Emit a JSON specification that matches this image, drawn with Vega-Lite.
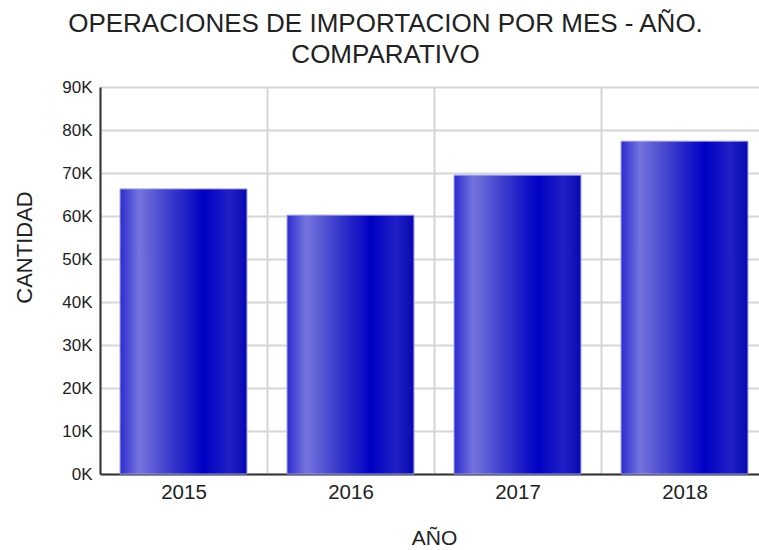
{
  "$schema": "https://vega.github.io/schema/vega-lite/v6.json",
  "autosize": "none",
  "width": 659,
  "height": 387,
  "padding": {"left": 100, "top": 87, "right": 0, "bottom": 76},
  "background": "white",
  "title": {
    "text": ["OPERACIONES DE IMPORTACION POR MES - AÑO.", "COMPARATIVO"],
    "font": "Liberation Sans",
    "fontSize": 26,
    "fontWeight": "normal",
    "color": "#222222",
    "lineHeight": 31,
    "anchor": "middle",
    "dx": -44,
    "offset": 10
  },
  "data": {
    "values": [
      {"year": "2015", "count": 66300},
      {"year": "2016", "count": 60200},
      {"year": "2017", "count": 69500},
      {"year": "2018", "count": 77400}
    ]
  },
  "config": {
    "view": {"stroke": null},
    "axis": {
      "labelFont": "Liberation Sans",
      "titleFont": "Liberation Sans",
      "titleFontSize": 21,
      "titleFontWeight": "normal",
      "labelColor": "#222222",
      "titleColor": "#222222",
      "gridColor": "#d6d6d6",
      "gridWidth": 2,
      "domainColor": "#333333",
      "domainWidth": 2,
      "ticks": false
    }
  },
  "mark": {
    "type": "bar",
    "width": {"band": 0.76},
    "stroke": "#9a9af0",
    "strokeWidth": 1,
    "fill": {
      "gradient": "linear",
      "x1": 0, "x2": 1, "y1": 0, "y2": 0,
      "stops": [
        {"offset": 0, "color": "#2c2cd0"},
        {"offset": 0.15, "color": "#7474de"},
        {"offset": 0.4, "color": "#3a3acc"},
        {"offset": 0.66, "color": "#0000c4"},
        {"offset": 0.86, "color": "#2020c6"},
        {"offset": 1, "color": "#0808b0"}
      ]
    }
  },
  "encoding": {
    "x": {
      "field": "year",
      "type": "nominal",
      "title": "AÑO",
      "scale": {"range": [0, 668], "paddingInner": 0, "paddingOuter": 0},
      "axis": {
        "labelAngle": 0,
        "labelFontSize": 20.5,
        "grid": true,
        "tickBand": "extent",
        "labelPadding": 8,
        "titlePadding": 25
      }
    },
    "y": {
      "field": "count",
      "type": "quantitative",
      "title": "CANTIDAD",
      "scale": {"domain": [0, 90000], "nice": false},
      "axis": {
        "values": [0, 10000, 20000, 30000, 40000, 50000, 60000, 70000, 80000, 90000],
        "labelExpr": "datum.value / 1000 + 'K'",
        "labelFontSize": 17,
        "labelPadding": 8,
        "titleFontSize": 22,
        "titleX": -64,
        "titleY": 160
      }
    }
  }
}
